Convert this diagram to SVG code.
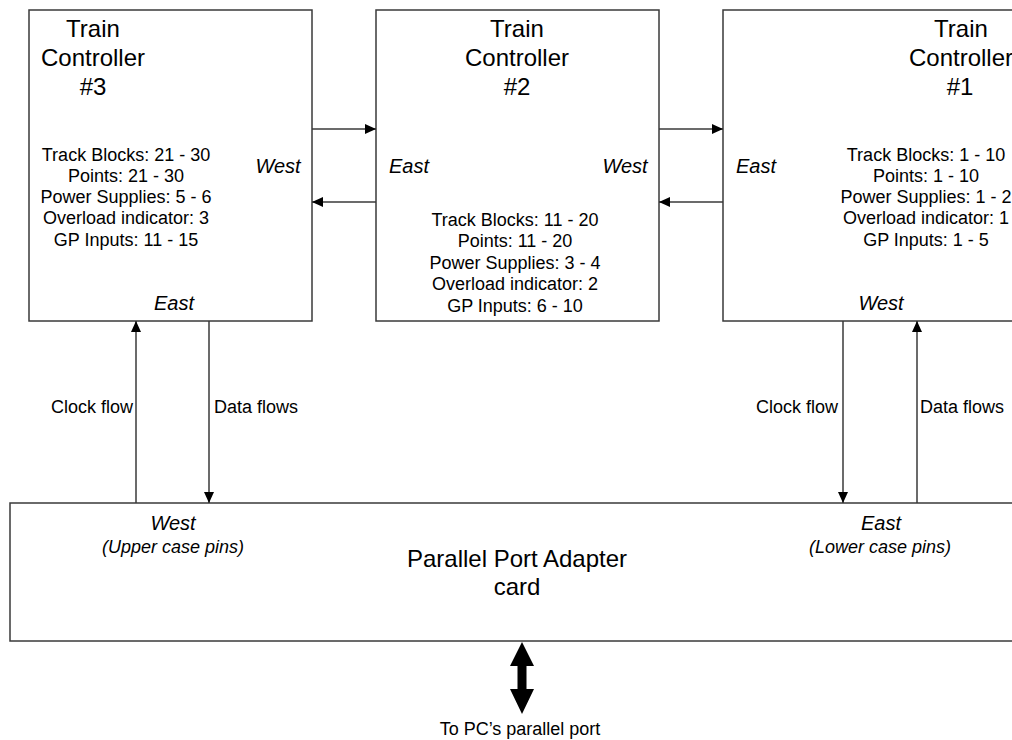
<svg xmlns="http://www.w3.org/2000/svg" width="1012" height="740" viewBox="0 0 1012 740">
  <style>
    .box { fill: #ffffff; stroke: #3a3a3a; stroke-width: 1.5; }
    .wire { fill: none; stroke: #3a3a3a; stroke-width: 1.5; }
    text { font-family: "Liberation Sans", Arial, sans-serif; fill: #000000; }
    .title { font-size: 24px; text-anchor: middle; }
    .info { font-size: 18px; text-anchor: middle; }
    .side { font-size: 20px; font-style: italic; }
    .pins { font-size: 18px; font-style: italic; text-anchor: middle; }
    .lbl { font-size: 18px; }
    .mid { text-anchor: middle; }
    .end { text-anchor: end; }
  </style>
  <defs>
    <marker id="head" markerUnits="userSpaceOnUse" markerWidth="11" markerHeight="10" refX="11" refY="5" orient="auto">
      <path d="M0,0 L11,5 L0,10 Z" fill="#000000"/>
    </marker>
  </defs>

  <rect width="1012" height="740" fill="#ffffff"/>

  <!-- Train controller #3 -->
  <g id="controller3">
    <rect class="box" x="29" y="10" width="283" height="311"/>
    <text class="title" x="93" y="37">Train</text>
    <text class="title" x="93" y="66">Controller</text>
    <text class="title" x="93" y="95">#3</text>
    <text class="info" x="126" y="161">Track Blocks: 21 - 30</text>
    <text class="info" x="126" y="182">Points: 21 - 30</text>
    <text class="info" x="126" y="203">Power Supplies: 5 - 6</text>
    <text class="info" x="126" y="224">Overload indicator: 3</text>
    <text class="info" x="126" y="246">GP Inputs: 11 - 15</text>
    <text class="side mid" x="278" y="173">West</text>
    <text class="side mid" x="174" y="310">East</text>
  </g>

  <!-- Train controller #2 -->
  <g id="controller2">
    <rect class="box" x="376" y="10" width="283" height="311"/>
    <text class="title" x="517" y="37">Train</text>
    <text class="title" x="517" y="66">Controller</text>
    <text class="title" x="517" y="95">#2</text>
    <text class="side mid" x="409" y="173">East</text>
    <text class="side mid" x="625" y="173">West</text>
    <text class="info" x="515" y="226">Track Blocks: 11 - 20</text>
    <text class="info" x="515" y="247">Points: 11 - 20</text>
    <text class="info" x="515" y="268.5">Power Supplies: 3 - 4</text>
    <text class="info" x="515" y="290">Overload indicator: 2</text>
    <text class="info" x="515" y="311.5">GP Inputs: 6 - 10</text>
  </g>

  <!-- Train controller #1 -->
  <g id="controller1">
    <rect class="box" x="723" y="10" width="300" height="311"/>
    <text class="title" x="961" y="37">Train</text>
    <text class="title" x="961" y="66">Controller</text>
    <text class="title" x="960" y="95">#1</text>
    <text class="side mid" x="756" y="173">East</text>
    <text class="info" x="926" y="161">Track Blocks: 1 - 10</text>
    <text class="info" x="926" y="182">Points: 1 - 10</text>
    <text class="info" x="926" y="203">Power Supplies: 1 - 2</text>
    <text class="info" x="926" y="224">Overload indicator: 1</text>
    <text class="info" x="926" y="246">GP Inputs: 1 - 5</text>
    <text class="side mid" x="881" y="310">West</text>
  </g>

  <!-- Parallel port adapter card -->
  <g id="adapter">
    <rect class="box" x="10" y="503" width="1010" height="138"/>
    <text class="side mid" x="173" y="530">West</text>
    <text class="pins" x="173" y="553">(Upper case pins)</text>
    <text class="side mid" x="881" y="530">East</text>
    <text class="pins" x="880" y="553">(Lower case pins)</text>
    <text class="title" x="517" y="567">Parallel Port Adapter</text>
    <text class="title" x="517" y="595">card</text>
  </g>

  <!-- PC link -->
  <g id="pc-link">
    <path d="M522,642 L534,666 L526.5,666 L526.5,689 L534,689 L522,714 L510,689 L517.5,689 L517.5,666 L510,666 Z" fill="#000000"/>
    <text class="lbl mid" x="520" y="735">To PC’s parallel port</text>
  </g>

  <!-- Connectors -->
  <g id="connectors">
    <line class="wire" x1="312" y1="129" x2="376" y2="129" marker-end="url(#head)"/>
    <line class="wire" x1="376" y1="202" x2="312" y2="202" marker-end="url(#head)"/>
    <line class="wire" x1="659" y1="129" x2="723" y2="129" marker-end="url(#head)"/>
    <line class="wire" x1="723" y1="202" x2="659" y2="202" marker-end="url(#head)"/>

    <line class="wire" x1="136" y1="503" x2="136" y2="321" marker-end="url(#head)"/>
    <line class="wire" x1="209" y1="321" x2="209" y2="503" marker-end="url(#head)"/>
    <line class="wire" x1="843" y1="321" x2="843" y2="503" marker-end="url(#head)"/>
    <line class="wire" x1="917" y1="503" x2="917" y2="321" marker-end="url(#head)"/>

    <text class="lbl end" x="133" y="413">Clock flow</text>
    <text class="lbl" x="214" y="413">Data flows</text>
    <text class="lbl end" x="838" y="413">Clock flow</text>
    <text class="lbl" x="920" y="413">Data flows</text>
  </g>
</svg>
